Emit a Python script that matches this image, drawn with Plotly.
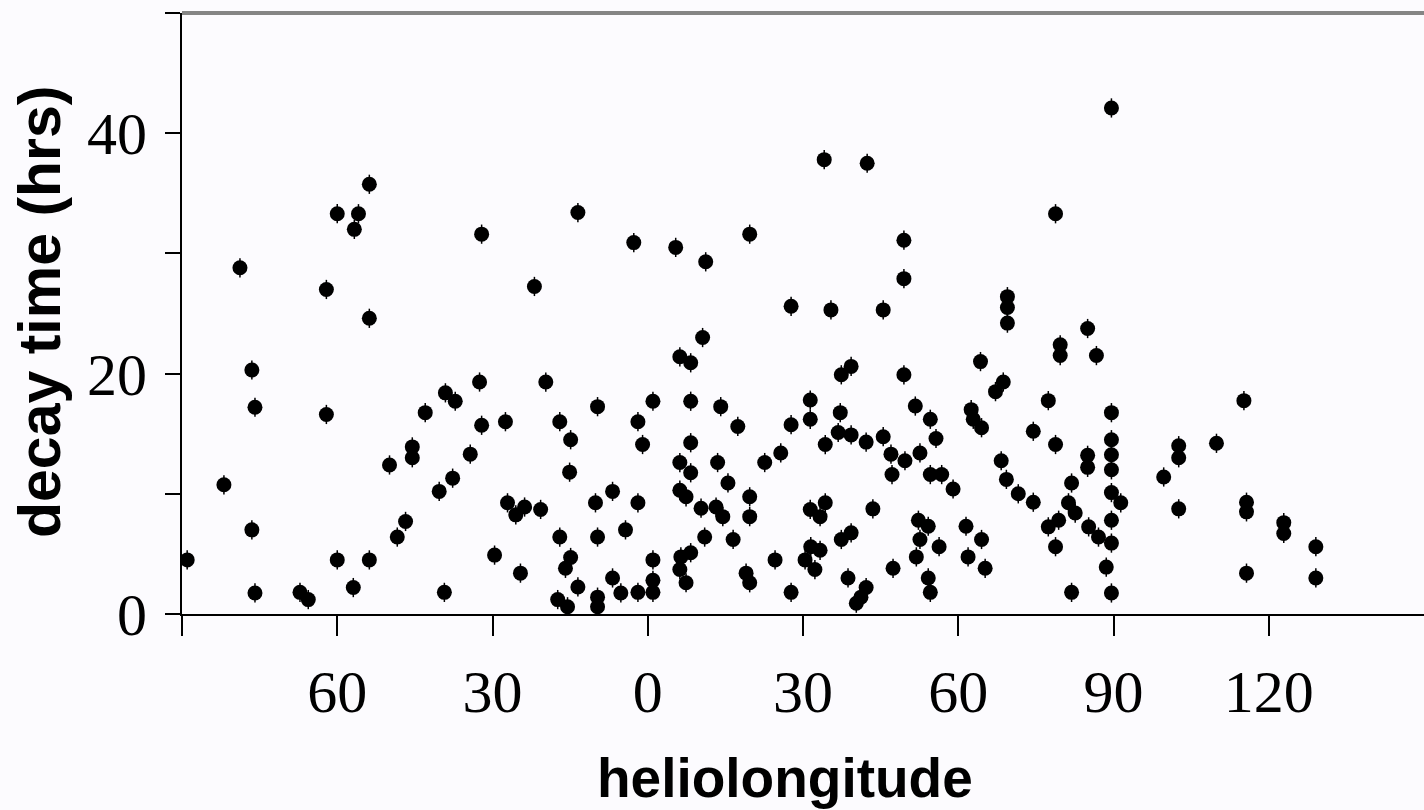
import plotly.graph_objects as go

# heliolongitude (deg, east negative) and decay time (hrs)
helio_lon = [
    -89.0, -81.9, -78.8, -76.5, -75.9, -76.5, -75.9, -67.2, -65.6, -62.1,
    -62.1, -60.0, -60.0, -56.9, -56.7, -55.9, -53.8, -53.8, -53.8, -49.9,
    -48.4, -46.8, -45.5, -45.5, -43.0, -40.3, -39.3, -39.1, -37.2, -37.7,
    -34.3, -32.5, -32.1, -32.1, -29.6, -27.5, -27.1, -25.5, -23.8, -24.6,
    -21.9, -20.7, -19.7, -17.4, -17.0, -17.0, -15.5, -15.9, -15.1, -14.9,
    -14.9, -13.5, -13.5, -10.1, -9.7, -9.7, -9.7, -9.7, -6.8, -6.8,
    -5.2, -4.3, -2.7, -1.9, -1.9, -1.9, -1.0, 1.0, 1.0, 1.0,
    1.0,
    5.4, 6.2, 8.3, 8.3, 8.3, 6.2, 8.3, 6.2, 7.4, 6.4,
    6.2, 7.4, 8.3, 10.3, 10.6, 11.0, 11.2, 13.2, 13.5, 14.1,
    14.5, 15.5, 16.5, 17.4, 19.0, 19.7, 19.7, 19.7, 19.7, 22.6,
    24.6, 25.7, 27.7, 27.7, 27.7, 30.4, 31.4, 31.4, 31.4, 31.5,
    32.3, 33.3, 33.3, 34.1, 34.3, 34.3, 35.4, 36.8, 37.2, 37.4,
    37.4, 38.7, 39.3, 39.3, 39.3, 40.3, 41.2, 42.2, 42.4, 42.2,
    43.5, 45.5, 45.5, 47.0, 47.2, 47.4, 49.5, 49.5, 49.5, 49.7,
    51.7, 51.9, 52.3, 52.6, 52.6, 54.2, 54.2, 54.6, 54.6, 54.6,
    55.7, 56.3, 56.8, 59.0, 61.5, 61.9, 62.5, 62.9, 64.5, 64.5,
    65.2, 64.3, 67.2, 68.7, 68.3, 69.3, 69.5, 69.5, 69.5, 71.6,
    74.5, 74.5, 77.4, 77.4, 78.8, 78.8, 78.8, 79.4, 79.7, 79.7,
    81.3, 81.9, 82.6, 81.9, 85.0, 85.0, 85.0, 85.2, 86.7, 87.1,
    88.6, 89.6, 89.6, 89.6, 89.6, 89.6, 89.6, 89.6, 89.6, 89.6,
    91.4, 99.7, 102.6, 102.6, 102.6, 109.9, 115.2, 115.7, 115.7, 115.7,
    122.9, 122.9, 129.1, 129.1,
]
decay_hrs = [
    4.5, 10.75, 28.8, 20.3, 17.2, 7.0, 1.75, 1.8, 1.2, 27.0,
    16.6, 33.3, 4.5, 2.2, 32.0, 33.3, 35.75, 24.6, 4.5, 12.4,
    6.4, 7.7, 13.9, 13.0, 16.75, 10.2, 1.8, 18.4, 17.7, 11.3,
    13.3, 19.3, 31.6, 15.7, 4.9, 16.0, 9.25, 8.25, 8.9, 3.4,
    27.25, 8.7, 19.3, 1.2, 16.0, 6.4, 0.6, 3.8, 11.8, 14.5,
    4.7, 33.4, 2.25, 9.25, 17.25, 6.4, 1.4, 0.6, 10.2, 3.0,
    1.75, 7.0, 30.9, 16.0, 9.25, 1.8, 14.1, 17.7, 4.5, 2.8,
    1.8,
    30.5, 21.4, 20.9, 17.7, 14.25, 12.6, 11.75, 10.3, 9.75, 4.75,
    3.7, 2.6, 5.1, 8.8, 23.0, 6.4, 29.3, 8.9, 12.6, 17.25,
    8.1, 10.9, 6.2, 15.6, 3.4, 2.6, 31.6, 9.75, 8.1, 12.6,
    4.5, 13.4, 25.6, 15.75, 1.8, 4.5, 17.8, 16.2, 8.7, 5.6,
    3.7, 8.1, 5.3, 37.8, 14.1, 9.25, 25.3, 15.1, 16.75, 19.9,
    6.2, 3.0, 20.6, 14.9, 6.75, 0.9, 1.4, 2.2, 37.5, 14.3,
    8.75, 25.3, 14.75, 13.3, 11.6, 3.8, 31.1, 27.9, 19.9, 12.75,
    17.3, 4.75, 7.8, 6.2, 13.4, 7.3, 3.0, 1.8, 16.2, 11.6,
    14.6, 5.6, 11.6, 10.4, 7.3, 4.75, 17.0, 16.2, 15.5, 6.2,
    3.8, 21.0, 18.5, 19.3, 12.75, 11.2, 26.4, 25.5, 24.2, 10.0,
    15.2, 9.3, 17.75, 7.25, 33.3, 14.1, 5.6, 7.8, 22.4, 21.5,
    9.25, 10.9, 8.4, 1.8, 23.75, 13.2, 12.2, 7.25, 21.5, 6.4,
    3.9, 42.1, 16.75, 14.5, 13.25, 12.0, 10.1, 7.8, 5.9, 1.75,
    9.25, 11.4, 14.0, 13.0, 8.75, 14.2, 17.75, 9.3, 8.5, 3.4,
    7.6, 6.7, 5.6, 3.0,
]
decay_err = [0.8] * len(decay_hrs)

x_tickvals = [-90, -60, -30, 0, 30, 60, 90, 120]
x_ticktext = ["", "60", "30", "0", "30", "60", "90", "120"]
y_tickvals = [0, 10, 20, 30, 40, 50]
y_ticktext = ["0", "", "20", "", "40", ""]

BG = "#fcfbfe"

fig = go.Figure()
fig.add_trace(go.Scatter(
    x=helio_lon, y=decay_hrs, mode="markers",
    marker=dict(symbol="circle", size=15, color="black", line=dict(width=0)),
    error_y=dict(type="data", array=decay_err, visible=True,
                 color="black", thickness=1.5, width=0),
    showlegend=False,
))

fig.update_layout(
    width=1424, height=810,
    margin=dict(l=182, r=0, t=13, b=196),
    paper_bgcolor=BG, plot_bgcolor=BG,
    xaxis=dict(
        range=[-90, 150], showgrid=False, zeroline=False,
        showline=True, linecolor="black", linewidth=2,
        ticks="outside", ticklen=20, tickwidth=2, tickcolor="black",
        tickvals=x_tickvals, ticktext=x_ticktext,
        tickfont=dict(family="Liberation Serif", size=60, color="black"),
        ticklabelstandoff=4,
    ),
    yaxis=dict(
        range=[0, 50], showgrid=False, zeroline=False,
        showline=True, linecolor="black", linewidth=2,
        ticks="outside", ticklen=15, tickwidth=2, tickcolor="black",
        tickvals=y_tickvals, ticktext=y_ticktext,
        tickfont=dict(family="Liberation Serif", size=60, color="black"),
        ticklabelstandoff=6,
    ),
    shapes=[dict(type="line", xref="paper", yref="paper", x0=0, x1=1, y0=1, y1=1,
                 line=dict(color="#858585", width=4))],
    annotations=[
        dict(text="<b>heliolongitude</b>", xref="paper", yref="paper",
             x=(785 - 182) / 1242, y=(614 - 778) / 601, xanchor="center", yanchor="middle",
             showarrow=False, font=dict(family="Liberation Sans", size=55, color="black")),
        dict(text="<b>decay time (hrs)</b>", xref="paper", yref="paper",
             x=(40 - 182) / 1242, y=(614 - 312) / 601, xanchor="center", yanchor="middle",
             textangle=-90, showarrow=False,
             font=dict(family="Liberation Sans", size=59, color="black")),
    ],
)

fig.write_html("out.html")
